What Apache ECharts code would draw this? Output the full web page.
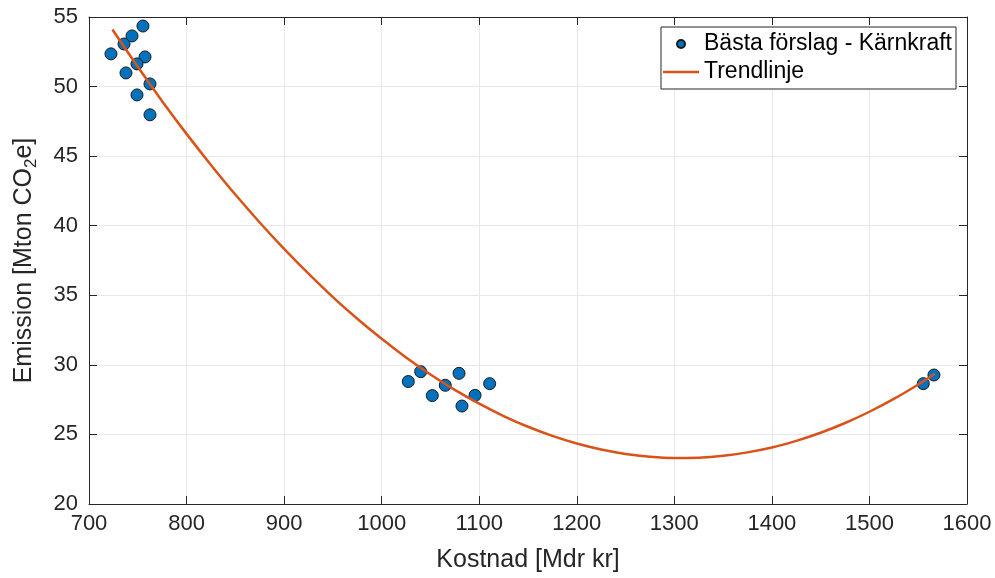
<!DOCTYPE html>
<html>
<head>
<meta charset="utf-8">
<script src="https://cdn.jsdelivr.net/npm/echarts@6/dist/echarts.min.js"></script>
<style>html,body{margin:0;padding:0;background:#fff;}#c{width:995px;height:578px;}</style>
</head>
<body>
<div id="c"></div>
<script>
// Scatter data: cost (Mdr kr) and emission (Mton CO2e)
const costs = [722.5, 735.9, 744.1, 755.3, 757.4, 749.2, 737.9, 762.5, 749.2, 762.5,
               1027.3, 1040.0, 1051.9, 1065.2, 1079.3, 1082.3, 1095.7, 1110.7,
               1555.2, 1566.1];
const emissions = [52.35, 53.06, 53.64, 54.35, 52.13, 51.63, 50.98, 50.19, 49.40, 47.97,
                   28.80, 29.51, 27.79, 28.53, 29.39, 27.04, 27.81, 28.65,
                   28.65, 29.27];
// Trend line
const trendX = [724, 750, 775, 800, 825, 850, 875, 900, 925, 950, 975, 1000, 1025, 1050, 1075, 1100,
                1125, 1150, 1175, 1200, 1225, 1250, 1275, 1300, 1325, 1350, 1375, 1400, 1425, 1450,
                1475, 1500, 1525, 1550, 1567];
const trendY = [54.1, 51.42, 48.95, 46.6, 44.37, 42.24, 40.23, 38.33, 36.55, 34.87, 33.31, 31.87, 30.53, 29.31, 28.2, 27.21,
                26.32, 25.55, 24.9, 24.35, 23.92, 23.6, 23.4, 23.31, 23.33, 23.46, 23.71, 24.06, 24.54, 25.12,
                25.82, 26.63, 27.55, 28.59, 29.36];
const xTicks = [700, 800, 900, 1000, 1100, 1200, 1300, 1400, 1500, 1600];
const yTicks = [20, 25, 30, 35, 40, 45, 50, 55];
const seriesNames = ['Bästa förslag - Kärnkraft', 'Trendlinje'];

const FONT = '"Liberation Sans", Arial, Helvetica, sans-serif';
const TXT = '#262626';
const chart = echarts.init(document.getElementById('c'), null, {renderer: 'canvas'});

const edgeAxis = {
  type: 'value',
  axisLine: {show: true, lineStyle: {color: TXT, width: 1}},
  axisTick: {show: true, inside: true, length: 8, lineStyle: {color: TXT}},
  axisLabel: {show: false}, splitLine: {show: false}
};

chart.setOption({
  backgroundColor: '#fff',
  animation: false,
  grid: {left: 89, right: 28, top: 17, bottom: 73, show: false},
  xAxis: [{
    type: 'value', min: xTicks[0], max: xTicks[xTicks.length - 1], interval: 100,
    splitLine: {show: true, lineStyle: {color: '#e8e8e8', width: 1}},
    axisLine: {show: true, lineStyle: {color: TXT, width: 1}},
    axisTick: {show: true, inside: true, length: 8, lineStyle: {color: TXT}},
    axisLabel: {color: TXT, fontSize: 22, fontFamily: FONT, margin: 9, formatter: v => String(v)},
    name: 'Kostnad [Mdr kr]', nameLocation: 'middle', nameGap: 44,
    nameTextStyle: {color: TXT, fontSize: 25, fontFamily: FONT}
  }, {
    ...edgeAxis, position: 'top', min: xTicks[0], max: xTicks[xTicks.length - 1], interval: 100
  }],
  yAxis: [{
    type: 'value', min: yTicks[0], max: yTicks[yTicks.length - 1], interval: 5,
    splitLine: {show: true, lineStyle: {color: '#e8e8e8', width: 1}},
    axisLine: {show: true, lineStyle: {color: TXT, width: 1}},
    axisTick: {show: true, inside: true, length: 8, lineStyle: {color: TXT}},
    axisLabel: {color: TXT, fontSize: 22, fontFamily: FONT, margin: 11},
    name: 'Emission [Mton CO{sub|2}e]', nameLocation: 'middle', nameGap: 49,
    nameTextStyle: {color: TXT, fontSize: 25, fontFamily: FONT,
      rich: {sub: {fontSize: 17, fontFamily: FONT, color: TXT, padding: [14, 0, 0, 0]}}}
  }, {
    ...edgeAxis, position: 'right', min: yTicks[0], max: yTicks[yTicks.length - 1], interval: 5
  }],
  legend: {
    orient: 'vertical', right: 39, top: 27,
    data: [
      {name: seriesNames[0], icon: 'circle'},
      {name: seriesNames[1], icon: 'path://M0,0L36,0L36,2.5L0,2.5Z'}
    ],
    itemWidth: 36, itemHeight: 8, itemGap: 4,
    padding: [5, 4, 5, 2],
    backgroundColor: '#fff', borderColor: TXT, borderWidth: 1, borderRadius: 0,
    textStyle: {color: '#000', fontSize: 23, fontFamily: FONT, lineHeight: 24}
  },
  series: [{
    name: seriesNames[1], type: 'line', smooth: 0.3, showSymbol: false, symbol: 'none',
    data: trendX.map((x, i) => [x, trendY[i]]),
    lineStyle: {color: '#D95319', width: 2.5}, itemStyle: {color: '#D95319'}, z: 3
  }, {
    name: seriesNames[0], type: 'scatter', symbol: 'circle', symbolSize: 12,
    data: costs.map((x, i) => [x, emissions[i]]),
    itemStyle: {color: '#0072BD', borderColor: '#1a1a1a', borderWidth: 1, opacity: 1}, z: 2
  }]
});
</script>
</body>
</html>
